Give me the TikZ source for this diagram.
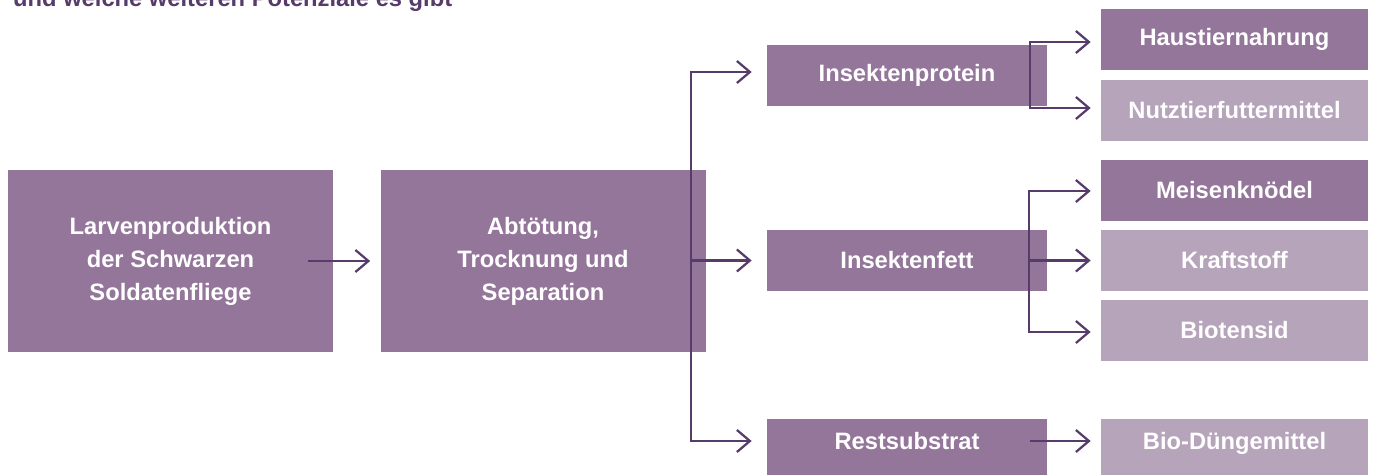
\documentclass[tikz,border=0pt]{standalone}
\usepackage{fontspec}
\setmainfont{Liberation Sans}
\usetikzlibrary{arrows.meta}
\definecolor{lila}{HTML}{94769B}
\definecolor{hellila}{HTML}{B6A4BB}
\definecolor{dunkellila}{HTML}{573B6A}

\begin{document}
\begin{tikzpicture}[x=0.2mm, y=-0.2mm, font=\bfseries\fontsize{13.5}{18.8}\selectfont,
  box/.style={fill=lila, text=white, inner sep=0pt, align=center},
  bigbox/.style={box, minimum width=65mm, minimum height=36.4mm},
  midbox/.style={box, minimum width=56mm, minimum height=12.2mm},
  endbox/.style={box, minimum width=53.4mm, minimum height=12.2mm},
  pale/.style={fill=hellila},
  lowtext/.style={text height=3.4mm, text depth=3.4mm},
  arr/.style={draw=dunkellila, line width=0.45mm, line join=miter, -{Straight Barb[length=2.6mm, width=4.4mm]}, shorten >=2mm}]
	\clip (0,0) rectangle (1373,474);
	\node[anchor=base west, text=dunkellila] (title) at (7,6) {und welche weiteren Potenziale es gibt};

	\node[bigbox] (larven) at (170.5,261) {Larvenproduktion\\der Schwarzen\\Soldatenfliege};
	\node[bigbox] (abtoet) at (543,261) {Abtötung,\\Trocknung und\\Separation};
	\node[midbox] (protein) at (907,75.5) {Insektenprotein};
	\node[midbox] (fett) at (907,260.5) {Insektenfett};
	\node[midbox, lowtext] (rest) at (907,449.5) {Restsubstrat};
	\node[endbox] (haus) at (1234.5,39.5) {Haustiernahrung};
	\node[endbox, pale] (nutz) at (1234.5,110.5) {Nutztierfuttermittel};
	\node[endbox] (meise) at (1234.5,190.5) {Meisenknödel};
	\node[endbox, pale] (kraft) at (1234.5,260.5) {Kraftstoff};
	\node[endbox, pale] (bio) at (1234.5,330.5) {Biotensid};
	\node[endbox, pale, lowtext] (duenger) at (1234.5,449.5) {Bio-Düngemittel};

	\coordinate (s1) at (691,72);
	\coordinate (s3) at (691,441);
	\coordinate (p1) at (1030,42);
	\coordinate (p2) at (1030,108);
	\coordinate (f1) at (1029,191);
	\coordinate (f3) at (1029,332);
	\coordinate (r1) at (1030,441);

	\draw[arr] ([xshift=-5mm]larven.east) -- (abtoet.west);
	\draw[arr, shorten >=3mm] (s3) -- (s1) -- (s1 -| protein.west);
	\draw[arr, shorten >=3mm] (s1) -- (s3) -- (s3 -| rest.west);
	\draw[arr, shorten >=3mm] (s1 |- fett.west) -- (fett.west);
	\draw[arr] (p2) -- (p1) -- (p1 -| haus.west);
	\draw[arr] (p1) -- (p2) -- (p2 -| nutz.west);
	\draw[arr] (f3) -- (f1) -- (f1 -| meise.west);
	\draw[arr] (f1) -- (f3) -- (f3 -| bio.west);
	\draw[arr] (f1 |- kraft.west) -- (kraft.west);
	\draw[arr] (r1) -- (r1 -| duenger.west);
\end{tikzpicture}
\end{document}
